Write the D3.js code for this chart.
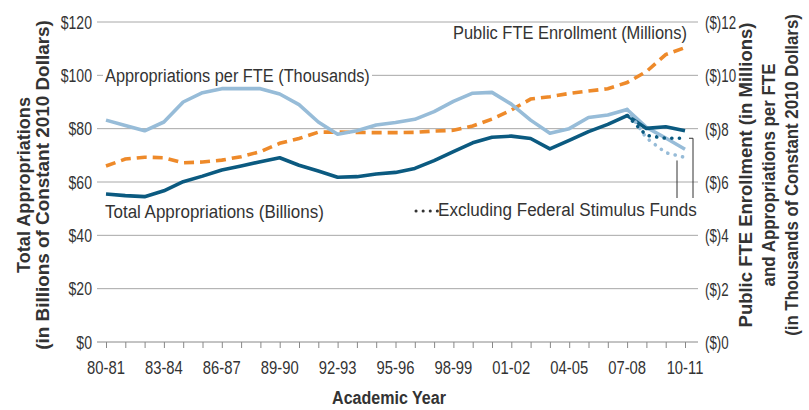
<!DOCTYPE html>
<html><head><meta charset="utf-8">
<script src="https://cdn.jsdelivr.net/npm/d3@7"></script>
<style>
html,body{margin:0;padding:0;background:#fff;}
svg{display:block;}
text{font-family:'Liberation Sans',Arial,sans-serif;fill:#333;}
</style></head>
<body>
<svg id="c" width="809" height="410"></svg>
<script>
const years = ["80-81","81-82","82-83","83-84","84-85","85-86","86-87","87-88","88-89","89-90","90-91","91-92","92-93","93-94","94-95","95-96","96-97","97-98","98-99","99-00","00-01","01-02","02-03","03-04","04-05","05-06","06-07","07-08","08-09","09-10","10-11"];
const totalApprop = [55.5,54.9,54.5,56.7,60.1,62.2,64.5,66,67.6,69.1,66.3,64.1,61.8,62,63,63.6,65.1,68,71.4,74.7,76.8,77.2,76.3,72.4,75.6,78.9,81.6,84.9,80.1,80.7,79.2];
const approPerFTE = [8.32,8.12,7.92,8.25,9.0,9.35,9.5,9.5,9.5,9.3,8.9,8.25,7.79,7.92,8.14,8.23,8.35,8.64,9.02,9.33,9.36,8.92,8.32,7.83,8.0,8.42,8.51,8.72,8.05,7.65,7.23];
const enrollment = [6.6,6.86,6.93,6.91,6.72,6.75,6.82,6.95,7.14,7.45,7.63,7.87,7.87,7.86,7.85,7.85,7.86,7.91,7.94,8.1,8.36,8.7,9.11,9.2,9.32,9.41,9.5,9.73,10.14,10.78,11.04];
const exclYears = ["07-08","08-09","09-10","10-11"];
const exclTotal = [84.9,77.5,76.4,76.4];
const exclPerFTE = [8.72,7.65,7.1,6.92];
const leftTicks = [0,20,40,60,80,100,120];
const rightTicks = [0,2,4,6,8,10,12];
const xLabelYears = ["80-81","83-84","86-87","89-90","92-93","95-96","98-99","01-02","04-05","07-08","10-11"];

const svg = d3.select("#c");
const x = d3.scalePoint().domain(years).range([106,685]);
const yL = d3.scaleLinear().domain([0,120]).range([342,22]);
const yR = d3.scaleLinear().domain([0,12]).range([342,22]);
const gx0 = 97, gx1 = 698;

const cDark = "#0b5a80", cLight = "#97bcd8", cOrange = "#ee8a2a", cGrid = "#a8a8a8";

// text helper: condensed look via horizontal scale (or fit to a target width)
function txt(g, px, py, str, o) {
  o = o || {};
  const t = g.append("text")
    .attr("text-anchor", o.anchor || "start")
    .attr("dominant-baseline", "central")
    .attr("font-size", o.size || 17)
    .attr("font-weight", o.weight || "normal")
    .text(str);
  let sx = o.sx || 1;
  if (o.len) { const w = t.node().getComputedTextLength(); if (w > 0) sx = o.len / w; }
  t.attr("transform", `translate(${px},${py}) rotate(${o.rot||0}) scale(${sx},1)`);
  return t;
}

// gridlines
svg.append("g").selectAll("line").data(leftTicks.filter(d=>d>0)).join("line")
  .attr("x1",gx0).attr("x2",gx1).attr("y1",d=>yL(d)).attr("y2",d=>yL(d))
  .attr("stroke",cGrid).attr("stroke-width",1);

// x axis with ticks
const gX = svg.append("g").attr("transform","translate(0,342)")
  .call(d3.axisBottom(x).tickSize(6).tickFormat(""));
gX.select(".domain").remove();
gX.selectAll(".tick line").attr("stroke","#888");
svg.append("line").attr("x1",gx0).attr("x2",gx1).attr("y1",342).attr("y2",342).attr("stroke","#888");
const gXL = svg.append("g");
xLabelYears.forEach(d => txt(gXL, x(d), 368, d, {anchor:"middle", size:18.5, sx:0.8}));

// left / right tick labels
const gY = svg.append("g");
leftTicks.forEach(d => txt(gY, 92, yL(d), "$"+d, {anchor:"end", size:18.5, sx:0.76}));
rightTicks.forEach(d => txt(gY, 705, yR(d), "($)"+d, {anchor:"start", size:18.5, sx:0.72}));

// lines
const lineL = d3.line().x((d,i)=>x(years[i])).y(d=>yL(d));
const lineR = d3.line().x((d,i)=>x(years[i])).y(d=>yR(d));
svg.append("path").datum(enrollment).attr("d",lineR).attr("fill","none")
  .attr("stroke",cOrange).attr("stroke-width",3.6).attr("stroke-dasharray","10 6");
svg.append("path").datum(approPerFTE).attr("d",lineR).attr("fill","none")
  .attr("stroke",cLight).attr("stroke-width",3.6).attr("stroke-linejoin","round");
svg.append("path").datum(totalApprop).attr("d",lineL).attr("fill","none")
  .attr("stroke",cDark).attr("stroke-width",3.6).attr("stroke-linejoin","round");

const lineEx = (sc)=> d3.line().x((d,i)=>x(exclYears[i])).y(d=>sc(d));
svg.append("path").datum(exclPerFTE).attr("d",lineEx(yR)).attr("fill","none")
  .attr("stroke",cLight).attr("stroke-width",3.6).attr("stroke-linecap","round").attr("stroke-dasharray","0.1 7.5");
svg.append("path").datum(exclTotal).attr("d",lineEx(yL)).attr("fill","none")
  .attr("stroke",cDark).attr("stroke-width",3.6).attr("stroke-linecap","round").attr("stroke-dasharray","0.1 7.5");

// brackets
const xe = x("10-11");
const yTxt = 198;
svg.append("path").attr("d",`M${xe+4},${yL(exclTotal[3])}H${xe+8}V${yTxt}`).attr("fill","none").attr("stroke","#333").attr("stroke-width",1);
svg.append("path").attr("d",`M${xe-8},${yR(exclPerFTE[3])+3}V${yTxt}`).attr("fill","none").attr("stroke","#333").attr("stroke-width",1);

// series labels
const gLab = svg.append("g");
gLab.append("rect").attr("x",103).attr("y",yL(100)-3).attr("width",269).attr("height",6).attr("fill","#fff");
txt(gLab, 105, yL(100), "Appropriations per FTE (Thousands)", {size:18, len:265});
txt(gLab, 453, 33, "Public FTE Enrollment (Millions)", {size:18, len:234});
txt(gLab, 105, 212, "Total Appropriations (Billions)", {size:18, len:219});
txt(gLab, 438, 210, "Excluding Federal Stimulus Funds", {size:18, len:259});
gLab.append("line").attr("x1",416).attr("x2",438.5).attr("y1",211).attr("y2",211)
  .attr("stroke","#333").attr("stroke-width",3).attr("stroke-linecap","round").attr("stroke-dasharray","0.1 7");

// axis titles
const gT = svg.append("g");
txt(gT, 23, 185, "Total Appropriations", {rot:-90, anchor:"middle", weight:"bold", size:19, len:176});
txt(gT, 42, 185, "(in Billions of Constant 2010 Dollars)", {rot:-90, anchor:"middle", weight:"bold", size:19, len:330});
txt(gT, 746, 175, "Public FTE Enrollment (in Millions)", {rot:-90, anchor:"middle", weight:"bold", size:18, len:305});
txt(gT, 769, 175, "and Appropriations per FTE", {rot:-90, anchor:"middle", weight:"bold", size:18, len:223});
txt(gT, 792, 175, "(in Thousands of Constant 2010 Dollars)", {rot:-90, anchor:"middle", weight:"bold", size:18, len:322});
txt(gT, 389, 398, "Academic Year", {anchor:"middle", weight:"bold", size:19, len:114});
</script>
</body></html>
